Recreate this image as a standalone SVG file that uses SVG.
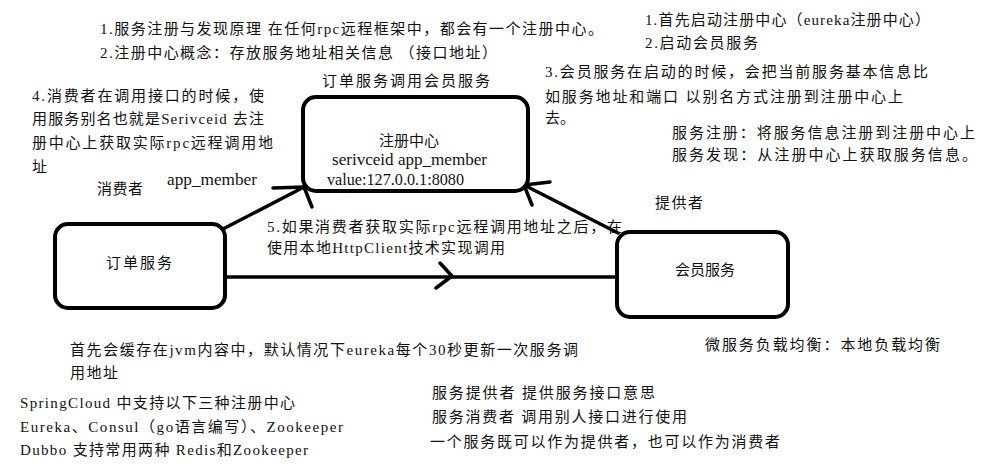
<svg xmlns="http://www.w3.org/2000/svg" width="990" height="469" viewBox="0 0 990 469">
<style>
text{font-family:"Liberation Serif","Noto Sans CJK SC",serif;font-size:15px;fill:#111;}
.lat{font-size:16px;}
.box{fill:#fff;stroke:#000;stroke-width:4;}
.con{fill:none;stroke:#000;stroke-width:3.5;stroke-linecap:round;stroke-linejoin:round;}
</style>
<rect width="990" height="469" fill="#fff"/>
<g id="connectors">
<path class="con" d="M223 229 L304 187"/>
<path class="con" d="M273 188 L304 187 L312 207"/>
<path class="con" d="M618 233 L524 185"/>
<path class="con" d="M550 182 L524 185 L532 205"/>
<path class="con" d="M225 277 L617 277"/>
<path class="con" d="M440 263 L452 276 L436 288"/>
</g>
<g id="registry">
<rect class="box" x="303" y="97" width="225" height="94" rx="13"/>
<text x="409" y="146" text-anchor="middle">注册中心</text>
<text class="lat" x="332" y="165" textLength="155" lengthAdjust="spacingAndGlyphs">serivceid app_member</text>
<text class="lat" x="327" y="185" textLength="137" lengthAdjust="spacingAndGlyphs">value:127.0.0.1:8080</text>
</g>
<g id="order-service">
<rect class="box" x="55" y="224" width="170" height="84" rx="13"/>
<text x="139" y="268" text-anchor="middle" textLength="66">订单服务</text>
</g>
<g id="member-service">
<rect class="box" x="617" y="232" width="171" height="85" rx="13"/>
<text x="705" y="275" text-anchor="middle" textLength="60">会员服务</text>
</g>
<g id="labels">
<text x="100" y="34" textLength="503">1.服务注册与发现原理 在任何rpc远程框架中，都会有一个注册中心。</text>
<text x="100" y="58" textLength="397">2.注册中心概念：存放服务地址相关信息 （接口地址）</text>
<text x="322" y="86" textLength="168">订单服务调用会员服务</text>
<text x="32" y="101" textLength="232">4.消费者在调用接口的时候，使</text>
<text x="32" y="124" textLength="232">用服务别名也就是Serivceid 去注</text>
<text x="32" y="148" textLength="241">册中心上获取实际rpc远程调用地</text>
<text x="32" y="172">址</text>
<text x="97" y="194" textLength="46">消费者</text>
<text class="lat" x="167" y="185" textLength="90" lengthAdjust="spacingAndGlyphs">app_member</text>
<text x="267" y="232" textLength="355">5.如果消费者获取实际rpc远程调用地址之后，在</text>
<text x="267" y="253" textLength="238">使用本地HttpClient技术实现调用</text>
<text x="645" y="25" textLength="285">1.首先启动注册中心（eureka注册中心）</text>
<text x="645" y="48" textLength="113">2.启动会员服务</text>
<text x="545" y="77" textLength="383">3.会员服务在启动的时候，会把当前服务基本信息比</text>
<text x="545" y="102" textLength="358">如服务地址和端口 以别名方式注册到注册中心上</text>
<text x="545" y="123">去。</text>
<text x="672" y="138" textLength="303">服务注册：将服务信息注册到注册中心上</text>
<text x="672" y="160" textLength="305">服务发现：从注册中心上获取服务信息。</text>
<text x="655" y="208" textLength="48">提供者</text>
<text x="705" y="350" textLength="235">微服务负载均衡：本地负载均衡</text>
<text x="70" y="355" textLength="508">首先会缓存在jvm内容中，默认情况下eureka每个30秒更新一次服务调</text>
<text x="70" y="378" textLength="48">用地址</text>
<text x="20" y="408" textLength="275">SpringCloud 中支持以下三种注册中心</text>
<text x="20" y="432" textLength="323">Eureka、Consul（go语言编写）、Zookeeper</text>
<text x="20" y="455" textLength="288">Dubbo 支持常用两种 Redis和Zookeeper</text>
<text x="432" y="398" textLength="223">服务提供者 提供服务接口意思</text>
<text x="432" y="422" textLength="255">服务消费者 调用别人接口进行使用</text>
<text x="430" y="447" textLength="350">一个服务既可以作为提供者，也可以作为消费者</text>
</g>
</svg>
